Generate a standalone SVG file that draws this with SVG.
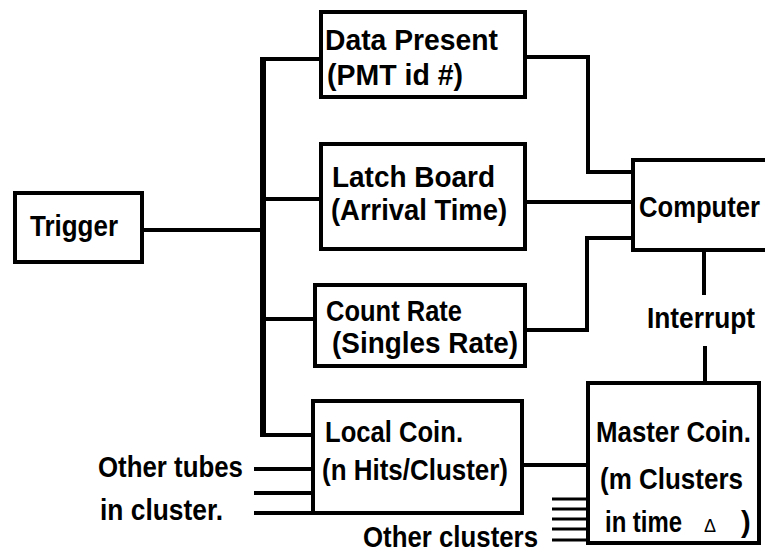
<svg xmlns="http://www.w3.org/2000/svg" width="765" height="552" viewBox="0 0 765 552">
<style>
.box{fill:#fff;stroke:#000;stroke-width:4}
.ln{fill:none;stroke:#000;stroke-width:4;stroke-linecap:square}
.bus{fill:none;stroke:#000;stroke-width:6}
.thin{fill:none;stroke:#000;stroke-width:3}
text{font-family:"Liberation Sans",Arial,sans-serif;font-weight:bold;font-size:29px;fill:#000}
.delta{font-weight:normal;font-size:18px}
</style>
<rect width="765" height="552" fill="#fff"/>
<g id="connectors">
  <path class="ln" d="M142 230 H263"/>
  <path class="bus" d="M263 57 V437"/>
  <path class="ln" d="M263 59 H321"/>
  <path class="ln" d="M263 199 H321"/>
  <path class="ln" d="M263 319 H315"/>
  <path class="ln" d="M263 435 H313"/>
  <path class="ln" d="M525 57 H588 V172 H633"/>
  <path class="ln" d="M525 202 H633"/>
  <path class="ln" d="M525 330 H587 V238 H633"/>
  <path class="ln" d="M704 250 V293"/>
  <path class="ln" d="M705 348 V383"/>
  <path class="ln" d="M522 465 H588"/>
  <path class="ln" d="M256 469 H312"/>
  <path class="ln" d="M256 493 H312"/>
  <path class="ln" d="M256 513 H312"/>
  <path class="thin" d="M552 499 H588 M552 509 H588 M552 519 H588 M552 529 H588 M552 540 H588"/>
</g>
<g id="trigger">
  <rect class="box" x="15" y="193" width="127" height="69"/>
  <text x="30" y="236" textLength="88" lengthAdjust="spacingAndGlyphs">Trigger</text>
</g>
<g id="data-present">
  <rect class="box" x="321" y="12" width="204" height="85"/>
  <text x="325" y="50" textLength="173" lengthAdjust="spacingAndGlyphs">Data Present</text>
  <text x="327" y="85" textLength="136" lengthAdjust="spacingAndGlyphs">(PMT id #)</text>
</g>
<g id="latch-board">
  <rect class="box" x="321" y="144" width="204" height="105"/>
  <text x="332" y="187" textLength="163" lengthAdjust="spacingAndGlyphs">Latch Board</text>
  <text x="331" y="220" textLength="176" lengthAdjust="spacingAndGlyphs">(Arrival Time)</text>
</g>
<g id="count-rate">
  <rect class="box" x="315" y="285" width="210" height="81"/>
  <text x="326" y="321" textLength="136" lengthAdjust="spacingAndGlyphs">Count Rate</text>
  <text x="332" y="353" textLength="186" lengthAdjust="spacingAndGlyphs">(Singles Rate)</text>
</g>
<g id="local-coin">
  <rect class="box" x="313" y="401" width="209" height="112"/>
  <text x="325" y="442" textLength="138" lengthAdjust="spacingAndGlyphs">Local Coin.</text>
  <text x="322" y="480" textLength="186" lengthAdjust="spacingAndGlyphs">(n Hits/Cluster)</text>
</g>
<g id="other-tubes">
  <text x="98" y="477" textLength="145" lengthAdjust="spacingAndGlyphs">Other tubes</text>
  <text x="100" y="520" textLength="123" lengthAdjust="spacingAndGlyphs">in cluster.</text>
</g>
<g id="computer">
  <rect class="box" x="633" y="160" width="150" height="90"/>
  <text x="639" y="217" textLength="121" lengthAdjust="spacingAndGlyphs">Computer</text>
</g>
<g id="interrupt">
  <text x="647" y="328" textLength="108" lengthAdjust="spacingAndGlyphs">Interrupt</text>
</g>
<g id="master-coin">
  <rect class="box" x="588" y="383" width="171" height="160"/>
  <text x="596" y="442" textLength="155" lengthAdjust="spacingAndGlyphs">Master Coin.</text>
  <text x="600" y="489" textLength="143" lengthAdjust="spacingAndGlyphs">(m Clusters</text>
  <text y="532"><tspan x="605" textLength="77" lengthAdjust="spacingAndGlyphs">in time</tspan><tspan class="delta" x="704">Δ</tspan><tspan x="741">)</tspan></text>
</g>
<g id="other-clusters">
  <text x="363" y="547" textLength="175" lengthAdjust="spacingAndGlyphs">Other clusters</text>
</g>
</svg>
